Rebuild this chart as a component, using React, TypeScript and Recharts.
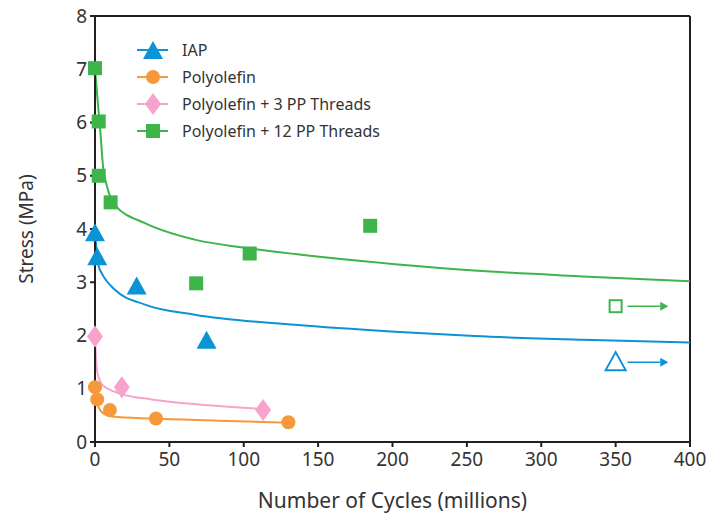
import {
  ComposedChart, Line, Scatter, XAxis, YAxis, ReferenceLine,
} from 'recharts';

// measured points
const iapPts = [{ x: 0, y: 3.92 }, { x: 1.5, y: 3.47 }, { x: 28, y: 2.92 }, { x: 75, y: 1.9 }];
const polyPts = [{ x: 0, y: 1.03 }, { x: 1.5, y: 0.8 }, { x: 10, y: 0.6 }, { x: 41, y: 0.44 }, { x: 130, y: 0.37 }];
const pp3Pts = [{ x: 0, y: 1.98 }, { x: 18, y: 1.03 }, { x: 113, y: 0.6 }];
const pp12Pts = [
  { x: 0, y: 7.02 }, { x: 2.5, y: 6.02 }, { x: 2.5, y: 5.0 }, { x: 10.5, y: 4.5 },
  { x: 68, y: 2.98 }, { x: 104, y: 3.54 }, { x: 185, y: 4.06 },
];
// run-outs (open markers + arrows)
const iapRunout = [{ x: 350, y: 1.5 }];
const pp12Runout = [{ x: 350, y: 2.55 }];
const arrowStart = 358;
const arrowEnd = 380;

// fitted curves
const iapFit = [
  { x: 0, y: 3.92 }, { x: 1.5, y: 3.5 }, { x: 2.5, y: 3.3 }, { x: 4.5, y: 3.17 }, { x: 13.4, y: 2.86 },
  { x: 33.6, y: 2.58 }, { x: 67, y: 2.39 }, { x: 134.5, y: 2.2 }, { x: 201.7, y: 2.07 },
  { x: 255, y: 1.99 }, { x: 328, y: 1.92 }, { x: 400, y: 1.87 },
];
const polyFit = [
  { x: 0, y: 1.03 }, { x: 1.3, y: 0.74 }, { x: 4, y: 0.58 }, { x: 6.7, y: 0.52 }, { x: 11.4, y: 0.48 },
  { x: 38, y: 0.44 }, { x: 83, y: 0.4 }, { x: 130, y: 0.36 },
];
const pp3Fit = [
  { x: 0, y: 1.98 }, { x: 0.6, y: 1.6 }, { x: 1.3, y: 1.36 }, { x: 3, y: 1.17 }, { x: 5.4, y: 1.06 },
  { x: 18, y: 0.9 }, { x: 38, y: 0.8 }, { x: 72, y: 0.7 }, { x: 113, y: 0.62 },
];
const pp12Fit = [
  { x: 0, y: 7.02 }, { x: 1.5, y: 6.5 }, { x: 3.4, y: 5.9 }, { x: 5.5, y: 5.15 }, { x: 8.1, y: 4.8 },
  { x: 13.4, y: 4.45 }, { x: 33.6, y: 4.11 }, { x: 67, y: 3.8 }, { x: 103, y: 3.64 },
  { x: 134.5, y: 3.53 }, { x: 201.7, y: 3.34 }, { x: 255, y: 3.22 }, { x: 328, y: 3.11 }, { x: 400, y: 3.02 },
];

const xTicks = [0, 50, 100, 150, 200, 250, 300, 350, 400];
const yTicks = [0, 1, 2, 3, 4, 5, 6, 7, 8];

const BLUE = '#0A94D6';
const ORANGE = '#F7983A';
const PINK = '#F8A3CB';
const GREEN = '#3DB54A';
const INK = '#231F20';
const FONT = '"Noto Sans", sans-serif';

const series = [
  { name: 'IAP', color: BLUE, kind: 'tri' },
  { name: 'Polyolefin', color: ORANGE, kind: 'circle' },
  { name: 'Polyolefin + 3 PP Threads', color: PINK, kind: 'diamond' },
  { name: 'Polyolefin + 12 PP Threads', color: GREEN, kind: 'square' },
];

function Marker({ kind, cx, cy, color, open }: { kind: string; cx: number; cy: number; color: string; open?: boolean }) {
  const fill = open ? 'none' : color;
  const stroke = open ? color : 'none';
  const sw = open ? 2 : 0;
  if (kind === 'tri') {
    return <polygon points={`${cx},${cy - 10} ${cx - 10},${cy + 8} ${cx + 10},${cy + 8}`} fill={fill} stroke={stroke} strokeWidth={sw} />;
  }
  if (kind === 'circle') return <circle cx={cx} cy={cy} r={7} fill={fill} />;
  if (kind === 'diamond') {
    return <polygon points={`${cx},${cy - 11} ${cx + 8},${cy} ${cx},${cy + 11} ${cx - 8},${cy}`} fill={fill} />;
  }
  const s = open ? 6 : 7;
  return <rect x={cx - s} y={cy - s} width={s * 2} height={s * 2} fill={fill} stroke={stroke} strokeWidth={sw} />;
}

const shapeOf = (kind: string, color: string, open = false) => (p: any) => (
  <Marker kind={kind} cx={p.cx} cy={p.cy} color={color} open={open} />
);

const arrowHead = (color: string) => (p: any) => (
  <polygon points={`${p.cx},${p.cy - 4.5} ${p.cx + 8},${p.cy} ${p.cx},${p.cy + 4.5}`} fill={color} />
);

function LegendBox() {
  return (
    <div style={{ position: 'absolute', left: 134, top: 36, fontFamily: FONT, fontSize: 16, color: '#333' }}>
      {series.map((s, i) => (
        <div key={s.name} style={{ display: 'flex', alignItems: 'center', height: 27 }}>
          <svg width={38} height={24} style={{ marginRight: 10 }}>
            <line x1={3} y1={12} x2={34} y2={12} stroke={s.color} strokeWidth={2} />
            <Marker kind={s.kind} cx={19} cy={i === 0 ? 13 : 12} color={s.color} />
          </svg>
          <span>{s.name}</span>
        </div>
      ))}
    </div>
  );
}

export default function App() {
  const tick = { fontSize: 19, fill: '#333', fontFamily: FONT };
  return (
    <div style={{ position: 'absolute', left: 0, top: 0, width: 712, height: 518, background: '#fff' }}>
      <ComposedChart width={712} height={518} margin={{ top: 16, right: 22, bottom: 0, left: 0 }}>
        <XAxis
          dataKey="x" type="number" domain={[0, 400]} ticks={xTicks} height={76}
          axisLine={{ stroke: INK, strokeWidth: 2 }} tickLine={{ stroke: INK, strokeWidth: 2 }} tickSize={5}
          tick={tick} tickMargin={6}
          label={{ value: 'Number of Cycles (millions)', position: 'insideBottom', offset: 10, style: { fontSize: 21, fill: '#333', fontFamily: FONT } }}
        />
        <YAxis
          dataKey="y" type="number" domain={[0, 8]} ticks={yTicks} width={95}
          axisLine={{ stroke: INK, strokeWidth: 2 }} tickLine={{ stroke: INK, strokeWidth: 2 }} tickSize={5}
          tick={tick} tickMargin={3}
          label={{ value: 'Stress (MPa)', angle: -90, position: 'insideLeft', offset: 26, textAnchor: 'middle', style: { fontSize: 19, fill: '#333', fontFamily: FONT, textAnchor: 'middle' } }}
        />
        <ReferenceLine y={8} stroke={INK} strokeWidth={2} />
        <ReferenceLine x={400} stroke={INK} strokeWidth={2} />

        <Line data={iapFit} dataKey="y" type="monotone" stroke={BLUE} strokeWidth={2} dot={false} isAnimationActive={false} />
        <Line data={polyFit} dataKey="y" type="monotone" stroke={ORANGE} strokeWidth={2} dot={false} isAnimationActive={false} />
        <Line data={pp3Fit} dataKey="y" type="monotone" stroke={PINK} strokeWidth={2} dot={false} isAnimationActive={false} />
        <Line data={pp12Fit} dataKey="y" type="monotone" stroke={GREEN} strokeWidth={2} dot={false} isAnimationActive={false} />

        <ReferenceLine segment={[{ x: arrowStart, y: pp12Runout[0].y }, { x: arrowEnd, y: pp12Runout[0].y }]} stroke={GREEN} strokeWidth={1.5} />
        <ReferenceLine segment={[{ x: arrowStart, y: iapRunout[0].y }, { x: arrowEnd, y: iapRunout[0].y }]} stroke={BLUE} strokeWidth={1.5} />
        <Scatter data={[{ x: arrowEnd, y: pp12Runout[0].y }]} dataKey="y" shape={arrowHead(GREEN)} isAnimationActive={false} />
        <Scatter data={[{ x: arrowEnd, y: iapRunout[0].y }]} dataKey="y" shape={arrowHead(BLUE)} isAnimationActive={false} />

        <Scatter data={pp12Pts} dataKey="y" shape={shapeOf('square', GREEN)} isAnimationActive={false} />
        <Scatter data={pp3Pts} dataKey="y" shape={shapeOf('diamond', PINK)} isAnimationActive={false} />
        <Scatter data={iapPts} dataKey="y" shape={shapeOf('tri', BLUE)} isAnimationActive={false} />
        <Scatter data={polyPts} dataKey="y" shape={shapeOf('circle', ORANGE)} isAnimationActive={false} />
        <Scatter data={pp12Runout} dataKey="y" shape={shapeOf('square', GREEN, true)} isAnimationActive={false} />
        <Scatter data={iapRunout} dataKey="y" shape={shapeOf('tri', BLUE, true)} isAnimationActive={false} />
      </ComposedChart>
      <LegendBox />
    </div>
  );
}
